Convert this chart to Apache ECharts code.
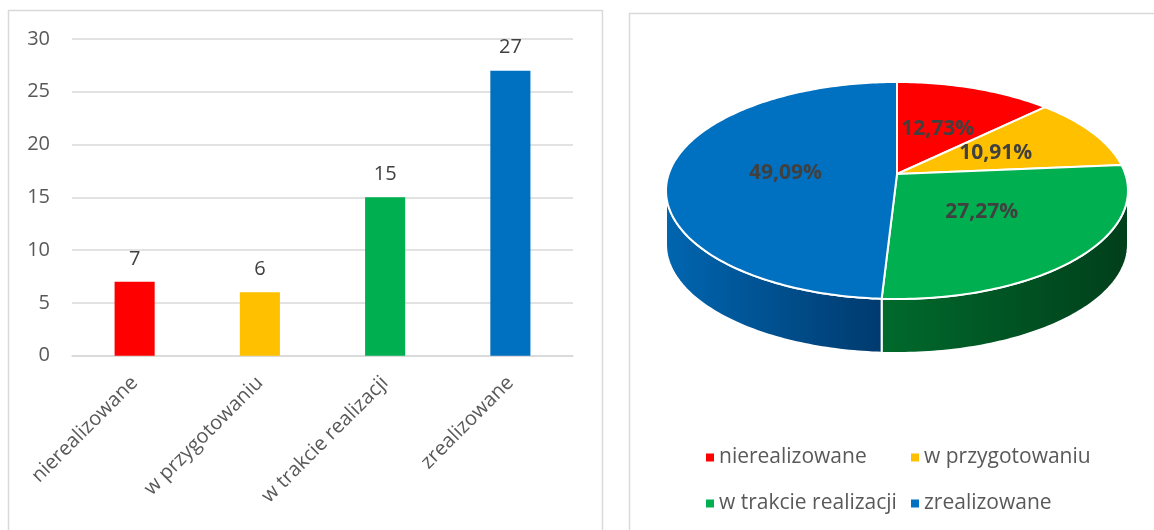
<!DOCTYPE html>
<html><head><meta charset="utf-8">
<script src="https://cdn.jsdelivr.net/npm/echarts@6/dist/echarts.min.js"></script>
<style>html,body{margin:0;padding:0;background:#fff}#c{width:1154px;height:530px}</style>
</head><body><div id="c"></div>
<script>
// ---- data ----
const categories = ['nierealizowane', 'w przygotowaniu', 'w trakcie realizacji', 'zrealizowane'];
const counts = [7, 6, 15, 27];
const colors = ['#FF0000', '#FFC000', '#00B050', '#0070C0'];
const sideStops = [
  ['#c00000', '#8a0000'],
  ['#c89600', '#8a6800'],
  ['#006a2c', '#003f1b'],
  ['#0066b0', '#003a6e']
];

// ---- pie (perspective ellipse) geometry ----
const PIE = { cx: 897, cy: 174, A: 228.3, B: 106, e: 0.152, D: 54 };
const FONT = '"Open Sans", "Noto Sans", sans-serif';
function proj(phiDeg, r, dz) {
  const p = phiDeg * Math.PI / 180;
  const u = r * Math.sin(p), w = -r * Math.cos(p);
  const k = 1 - PIE.e * w;
  return [PIE.cx + PIE.A * u / k, PIE.cy + PIE.B * w / k + dz];
}
function arc(a0, a1, r, dz) {
  const pts = [];
  const n = Math.max(2, Math.ceil(Math.abs(a1 - a0)));
  for (let i = 0; i <= n; i++) pts.push(proj(a0 + (a1 - a0) * i / n, r, dz));
  return pts;
}
const total = counts.reduce((s, v) => s + v, 0);
const starts = [];
{ let acc = 0; counts.forEach(v => { starts.push(acc / total * 360); acc += v; }); }
const phiR = Math.acos(-PIE.e) * 180 / Math.PI;
const phiL = 360 - phiR;

function sliceGroup(i, value) {
  const a0 = starts[i], a1 = a0 + value / total * 360;
  const children = [];
  const v0 = Math.max(a0, phiR), v1 = Math.min(a1, phiL);
  if (v1 > v0) {
    const pts = arc(v0, v1, 1, 0).concat(arc(v1, v0, 1, PIE.D));
    children.push({
      type: 'polygon', shape: { points: pts },
      style: {
        fill: new echarts.graphic.LinearGradient(0, 0, 1, 0, [
          { offset: 0, color: sideStops[i][0] }, { offset: 1, color: sideStops[i][1] }]),
        stroke: '#ffffff', lineWidth: 2, lineJoin: 'round'
      }
    });
  }
  children.push({
    type: 'polygon', shape: { points: [proj(0, 0, 0)].concat(arc(a0, a1, 1, 0)) },
    style: { fill: colors[i], stroke: '#ffffff', lineWidth: 2, lineJoin: 'round' }
  });
  const lp = proj((a0 + a1) / 2, 0.49, 0);
  children.push({
    type: 'text',
    style: {
      text: (value / total * 100).toFixed(2).replace('.', ',') + '%',
      x: lp[0], y: lp[1], fill: '#404040',
      font: 'bold 21px ' + FONT, align: 'center', verticalAlign: 'middle'
    }
  });
  return { type: 'group', children };
}

const chart = echarts.init(document.getElementById('c'), null, { renderer: 'canvas' });
const legendCommon = {
  orient: 'vertical', top: 442, itemGap: 25, icon: 'rect', itemWidth: 8, itemHeight: 8,
  textStyle: { color: '#595959', fontSize: 21, fontFamily: FONT },
  selectedMode: false
};
chart.setOption({
  animation: false,
  backgroundColor: '#ffffff',
  graphic: [
    { type: 'rect', shape: { x: 8.5, y: 10.5, width: 594, height: 540 }, style: { fill: 'none', stroke: '#d9d9d9', lineWidth: 1.5 }, z: -1 },
    { type: 'rect', shape: { x: 629.5, y: 13.5, width: 600, height: 540 }, style: { fill: 'none', stroke: '#d9d9d9', lineWidth: 1.5 }, z: -1 }
  ],
  grid: { left: 72, right: 581, top: 39, bottom: 174.3, containLabel: false },
  xAxis: {
    type: 'category', data: categories,
    axisLine: { lineStyle: { color: '#d9d9d9', width: 1.5 } },
    axisTick: { show: false },
    axisLabel: { rotate: 45, interval: 0, color: '#595959', fontSize: 20, fontFamily: FONT, margin: 24 }
  },
  yAxis: {
    type: 'value', min: 0, max: 30, interval: 5,
    axisLine: { show: false }, axisTick: { show: false },
    splitLine: { lineStyle: { color: '#d9d9d9', width: 1.5 } },
    axisLabel: { color: '#595959', fontSize: 20, fontFamily: FONT, margin: 22 }
  },
  legend: [
    Object.assign({ data: [categories[0], categories[2]], left: 701 }, legendCommon),
    Object.assign({ data: [categories[1], categories[3]], left: 906 }, legendCommon)
  ],
  series: [
    {
      type: 'bar', name: 'liczba',
      data: counts.map((v, i) => ({ value: v, itemStyle: { color: colors[i] } })),
      barWidth: '32%',
      label: { show: true, position: 'top', distance: 13, color: '#404040', fontSize: 20, fontFamily: FONT }
    }
  ].concat(categories.map((name, i) => ({
    type: 'custom', name: name, coordinateSystem: 'none',
    itemStyle: { color: colors[i] },
    data: [counts[i]],
    renderItem: (params, api) => sliceGroup(i, api.value(0))
  })))
});
</script>
</body></html>
